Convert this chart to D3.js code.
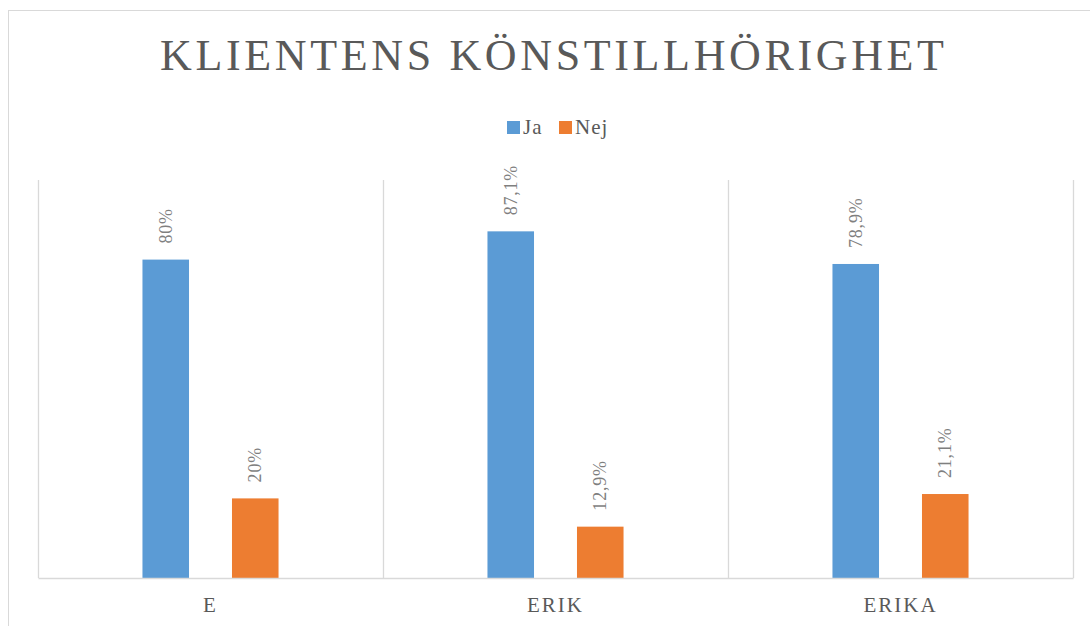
<!DOCTYPE html>
<html>
<head>
<meta charset="utf-8">
<script src="https://cdn.jsdelivr.net/npm/d3@7"></script>
<style>
  html, body { margin: 0; padding: 0; background: #fff; }
  svg { display: block; }
</style>
</head>
<body>
<svg id="chart" width="1090" height="626"></svg>
<script>
const title = "KLIENTENS KÖNSTILLHÖRIGHET";
const categories = ["E", "ERIK", "ERIKA"];
const seriesNames = ["Ja", "Nej"];
const jaValues = [80, 87.1, 78.9];
const nejValues = [20, 12.9, 21.1];
const jaLabels = ["80%", "87,1%", "78,9%"];
const nejLabels = ["20%", "12,9%", "21,1%"];
const colors = ["#5B9BD5", "#ED7D31"];

const svg = d3.select("#chart");
const font = "'Liberation Serif', 'DejaVu Serif', serif";
const textColor = "#595959";

// outer chart border
svg.append("rect").attr("x", 8.5).attr("y", 10.5).attr("width", 1200).attr("height", 700)
  .attr("fill", "#fff").attr("stroke", "#D9D9D9").attr("stroke-width", 1);

const plot = { left: 38, right: 1073, top: 180, bottom: 578 };

const x0 = d3.scaleBand().domain(categories).range([plot.left, plot.right]).paddingInner(0).paddingOuter(0);
const x1 = d3.scaleBand().domain(seriesNames).range([0, x0.bandwidth()]).paddingInner(0.48).paddingOuter(1.167);
const y = d3.scaleLinear().domain([0, 100]).range([plot.bottom, plot.top]);

// vertical category gridlines
const gridX = categories.map(c => x0(c)).concat([plot.right]);
svg.append("g").selectAll("line").data(gridX).join("line")
  .attr("x1", d => Math.round(d) + 0.5).attr("x2", d => Math.round(d) + 0.5)
  .attr("y1", plot.top).attr("y2", plot.bottom)
  .attr("stroke", "#D9D9D9").attr("stroke-width", 1.3);

const data = categories.map((c, i) => ({
  cat: c,
  vals: [
    { s: "Ja", v: jaValues[i], label: jaLabels[i] },
    { s: "Nej", v: nejValues[i], label: nejLabels[i] }
  ]
}));

const groups = svg.append("g").selectAll("g").data(data).join("g")
  .attr("transform", d => `translate(${x0(d.cat)},0)`);

groups.selectAll("rect").data(d => d.vals).join("rect")
  .attr("x", d => x1(d.s))
  .attr("y", d => y(d.v))
  .attr("width", x1.bandwidth())
  .attr("height", d => y(0) - y(d.v))
  .attr("fill", (d, i) => colors[i]);

groups.selectAll("text.val").data(d => d.vals).join("text")
  .attr("class", "val")
  .attr("transform", d => `translate(${x1(d.s) + x1.bandwidth() / 2 + 6},${y(d.v) - 16}) rotate(-90)`)
  .attr("text-anchor", "start")
  .attr("font-family", font).attr("font-size", 18).attr("letter-spacing", "0.8px").attr("fill", "#7F7F7F")
  .text(d => d.label);

// baseline axis
const xAxis = d3.axisBottom(x0).tickSize(0).tickPadding(18);
const ax = svg.append("g").attr("transform", `translate(0,${plot.bottom})`).call(xAxis);
ax.select(".domain").attr("stroke", "#D9D9D9").attr("stroke-width", 1.5);
ax.selectAll("text").attr("font-family", font).attr("font-size", 21).attr("fill", textColor)
  .attr("letter-spacing", "2px").attr("dy", "0.75em");

// title
svg.append("text").attr("x", 552).attr("y", 70).attr("text-anchor", "middle")
  .attr("font-family", font).attr("font-size", 44).attr("fill", textColor)
  .attr("textLength", 784).attr("lengthAdjust", "spacing")
  .text(title);

// legend
const legend = svg.append("g");
const legendItems = [{ name: "Ja", x: 507 }, { name: "Nej", x: 559 }];
legendItems.forEach((it, i) => {
  legend.append("rect").attr("x", it.x).attr("y", 121).attr("width", 13).attr("height", 13).attr("fill", colors[i]);
  legend.append("text").attr("x", it.x + 16).attr("y", 134)
    .attr("font-family", font).attr("font-size", 21).attr("letter-spacing", "1px").attr("fill", textColor).text(it.name);
});
</script>
</body>
</html>
